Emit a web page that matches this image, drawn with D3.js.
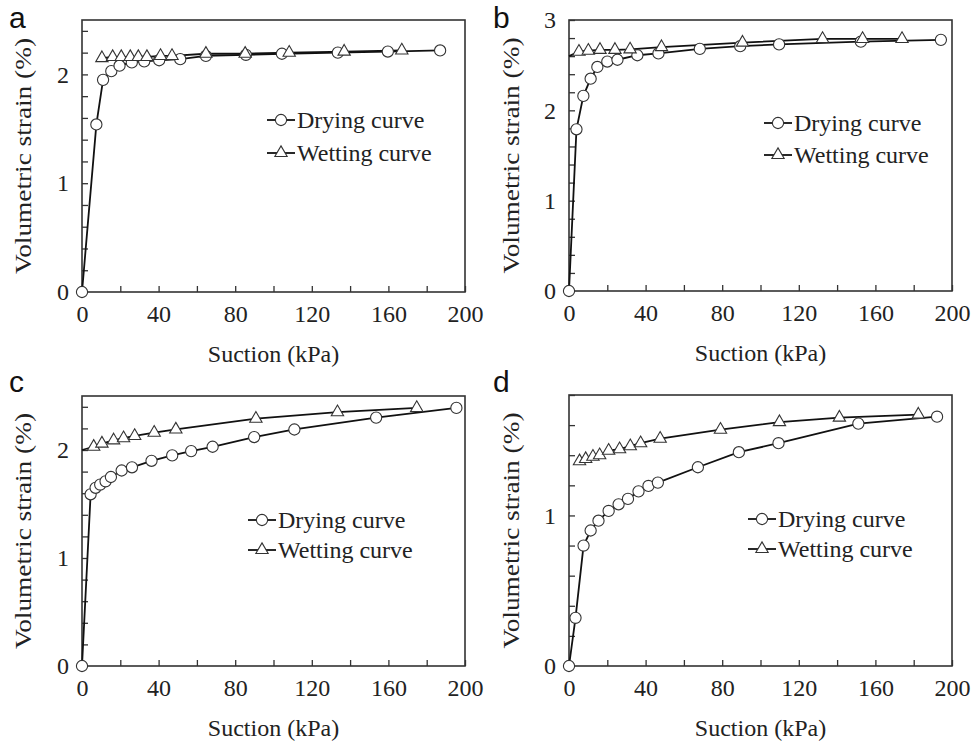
<!DOCTYPE html>
<html>
<head>
<meta charset="utf-8">
<script src="https://cdn.jsdelivr.net/npm/d3@7"></script>
<style>
  body { margin: 0; background: #fff; }
  svg { font-family: Tinos; }
</style>
</head>
<body>
<div id="chart"></div>
<script>
// ---- data (suction in kPa, volumetric strain in %) ----
let dryingSuctionA = [0, 7.5, 11, 15.3, 19.6, 26, 32.5, 40.3, 51.3, 64.7, 85.6, 104.4, 133.6, 159.7, 187];
let dryingStrainA  = [0, 1.54, 1.95, 2.03, 2.08, 2.11, 2.12, 2.13, 2.14, 2.17, 2.18, 2.19, 2.2, 2.21, 2.22];
let wettingSuctionA = [10.4, 16, 20.5, 25.2, 29.4, 33.9, 41, 47, 64.7, 85.2, 108.2, 136.9, 167];
let wettingStrainA  = [2.15, 2.16, 2.16, 2.16, 2.16, 2.16, 2.17, 2.17, 2.19, 2.19, 2.2, 2.21, 2.22];

let dryingSuctionB = [0, 3.9, 7.5, 11.3, 14.8, 20, 25.3, 35.7, 46.7, 68.3, 89.4, 109.7, 152.4, 194.2];
let dryingStrainB  = [0, 1.79, 2.16, 2.35, 2.48, 2.54, 2.56, 2.61, 2.63, 2.68, 2.71, 2.73, 2.76, 2.78];
let wettingSuctionB = [0, 5.2, 10.1, 16.2, 24, 31.9, 48.3, 90.6, 132.4, 153.3, 173.9];
let wettingStrainB  = [2.6, 2.65, 2.66, 2.67, 2.67, 2.675, 2.7, 2.75, 2.79, 2.79, 2.79];

let dryingSuctionC = [0, 4.5, 7.1, 9.5, 12.3, 15.1, 20.7, 26.1, 36.3, 47.1, 57, 68.2, 89.9, 110.9, 153.6, 195.5];
let dryingStrainC  = [0, 1.59, 1.65, 1.68, 1.71, 1.75, 1.81, 1.84, 1.9, 1.95, 1.99, 2.03, 2.12, 2.19, 2.3, 2.39];
let wettingSuctionC = [0, 6.1, 10.4, 16.5, 21.7, 27.5, 37.7, 49, 90.8, 133.4, 174.8];
let wettingStrainC  = [2.0, 2.03, 2.06, 2.09, 2.11, 2.13, 2.16, 2.19, 2.29, 2.35, 2.39];

let dryingSuctionD = [0, 3.4, 7.6, 11.3, 15.4, 20.7, 25.9, 30.8, 36.3, 41.5, 46.4, 67.3, 88.7, 109.4, 151.1, 192.2];
let dryingStrainD  = [0, 0.32, 0.8, 0.9, 0.965, 1.03, 1.074, 1.11, 1.16, 1.196, 1.218, 1.32, 1.42, 1.48, 1.61, 1.656];
let wettingSuctionD = [5.5, 8.7, 12.5, 16, 20.7, 26.4, 32, 37.4, 47.6, 79.1, 109.9, 141.2, 182.4];
let wettingStrainD  = [1.36, 1.375, 1.39, 1.4, 1.43, 1.44, 1.46, 1.48, 1.51, 1.57, 1.62, 1.65, 1.67];

let panelLetters = ["a", "b", "c", "d"];
let yMaxes = [2.5, 3, 2.5, 1.8];
let xTicks = [0, 20, 40, 60, 80, 100, 120, 140, 160, 180, 200];
let seriesNames = ["Drying curve", "Wetting curve"];

// ---- layout ----
const W = 972, H = 742;

let svg = d3.select("#chart").append("svg")
    .attr("width", W)
    .attr("height", H);

// serif text helper
function serifText(sel, size) {
    return sel.attr("font-size", size)
        .style("font-family", "Tinos")
        .attr("fill", "#222");
}

let panels = [
    { letter: panelLetters[0], yMax: yMaxes[0], left: 82, top: 20, right: 465, bottom: 292,
      dry: d3.zip(dryingSuctionA, dryingStrainA), wet: d3.zip(wettingSuctionA, wettingStrainA),
      legend: [185, 100], legendGap: 33, letterPos: [9, 28], labelX: 23 },
    { letter: panelLetters[1], yMax: yMaxes[1], left: 569, top: 20, right: 952, bottom: 291,
      dry: d3.zip(dryingSuctionB, dryingStrainB), wet: d3.zip(wettingSuctionB, wettingStrainB),
      legend: [195, 103], legendGap: 32, letterPos: [493, 28], labelX: 511 },
    { letter: panelLetters[2], yMax: yMaxes[2], left: 82, top: 396, right: 465, bottom: 666,
      dry: d3.zip(dryingSuctionC, dryingStrainC), wet: d3.zip(wettingSuctionC, wettingStrainC),
      legend: [166, 124], legendGap: 30, letterPos: [9, 392], labelX: 23 },
    { letter: panelLetters[3], yMax: yMaxes[3], left: 569, top: 395, right: 952, bottom: 666,
      dry: d3.zip(dryingSuctionD, dryingStrainD), wet: d3.zip(wettingSuctionD, wettingStrainD),
      legend: [179, 124], legendGap: 30, letterPos: [493, 392], labelX: 511 }
];

let triangle = d3.symbol().type(d3.symbolTriangle).size(66);

panels.forEach(function(p) {
    let w = p.right - p.left,
        h = p.bottom - p.top;

    let x = d3.scaleLinear().domain([0, 200]).range([0, w]);
    let y = d3.scaleLinear().domain([0, p.yMax]).range([h, 0]);

    let g = svg.append("g")
        .attr("transform", "translate(" + p.left + "," + p.top + ")");

    // axes with inward ticks
    let xAxis = d3.axisBottom(x)
        .tickValues(xTicks)
        .tickSizeInner(-6)
        .tickSizeOuter(0)
        .tickPadding(12)
        .tickFormat(d => d % 40 === 0 ? d : "");

    let yTicks = d3.range(0, p.yMax + 0.001, 0.2);
    let yAxis = d3.axisLeft(y)
        .tickValues(yTicks)
        .tickSizeInner(-6)
        .tickSizeOuter(0)
        .tickPadding(13)
        .tickFormat(d => Math.abs(d - Math.round(d)) < 0.001 ? Math.round(d) : "");

    let gx = g.append("g")
        .attr("transform", "translate(0," + h + ")")
        .call(xAxis);
    let gy = g.append("g").call(yAxis);

    [gx, gy].forEach(function(a) {
        a.attr("font-family", null).attr("font-size", null);
        a.select(".domain").remove();
        a.selectAll("line").attr("stroke", "#333").attr("stroke-width", 1.3);
        serifText(a.selectAll("text"), 24);
    });
    gx.selectAll("text").attr("dy", "0.74em");

    // frame
    g.append("rect")
        .attr("width", w)
        .attr("height", h)
        .attr("fill", "none")
        .attr("stroke", "#333")
        .attr("stroke-width", 1.6);

    // lines
    let line = d3.line()
        .x(d => x(d[0]))
        .y(d => y(d[1]));

    g.append("path")
        .datum(p.dry)
        .attr("d", line)
        .attr("fill", "none")
        .attr("stroke", "#111")
        .attr("stroke-width", 1.8);

    g.append("path")
        .datum(p.wet)
        .attr("d", line)
        .attr("fill", "none")
        .attr("stroke", "#111")
        .attr("stroke-width", 1.8);

    // markers
    g.selectAll(".dry")
        .data(p.dry)
        .enter().append("circle")
        .attr("class", "dry")
        .attr("cx", d => x(d[0]))
        .attr("cy", d => y(d[1]))
        .attr("r", 5.6)
        .attr("fill", "#fff")
        .attr("stroke", "#333")
        .attr("stroke-width", 1.1);

    g.selectAll(".wet")
        .data(p.wet.filter(d => d[0] > 0))
        .enter().append("path")
        .attr("class", "wet")
        .attr("d", triangle)
        .attr("transform", d => "translate(" + x(d[0]) + "," + y(d[1]) + ")")
        .attr("fill", "#fff")
        .attr("stroke", "#333")
        .attr("stroke-width", 1.1);

    // legend
    let lg = g.append("g")
        .attr("transform", "translate(" + p.legend[0] + "," + p.legend[1] + ")");

    seriesNames.forEach(function(name, i) {
        let row = lg.append("g").attr("transform", "translate(0," + (i * p.legendGap) + ")");
        row.append("line")
            .attr("x1", 0).attr("x2", 28)
            .attr("stroke", "#111")
            .attr("stroke-width", 1.8);
        if (i === 0) {
            row.append("circle")
                .attr("cx", 14).attr("r", 5.6)
                .attr("fill", "#fff").attr("stroke", "#333").attr("stroke-width", 1.1);
        } else {
            row.append("path")
                .attr("d", triangle)
                .attr("transform", "translate(14,0)")
                .attr("fill", "#fff").attr("stroke", "#333").attr("stroke-width", 1.1);
        }
        serifText(row.append("text"), 24)
            .attr("x", 30)
            .attr("y", 8)
            .text(name);
    });

    // axis titles
    serifText(g.append("text"), 24)
        .attr("x", w / 2)
        .attr("y", h + 70)
        .attr("text-anchor", "middle")
        .text("Suction (kPa)");

    serifText(svg.append("text"), 24)
        .attr("transform", "translate(" + (p.labelX + 8) + "," + ((p.top + p.bottom) / 2) + ") rotate(-90)")
        .attr("text-anchor", "middle")
        .attr("textLength", 236)
        .attr("lengthAdjust", "spacingAndGlyphs")
        .text("Volumetric strain (%)");

    // panel letter
    svg.append("text")
        .attr("x", p.letterPos[0])
        .attr("y", p.letterPos[1])
        .attr("font-size", 30)
        .attr("fill", "#111")
        .style("font-family", "'Liberation Sans'")
        .text(p.letter);
});
</script>
</body>
</html>
